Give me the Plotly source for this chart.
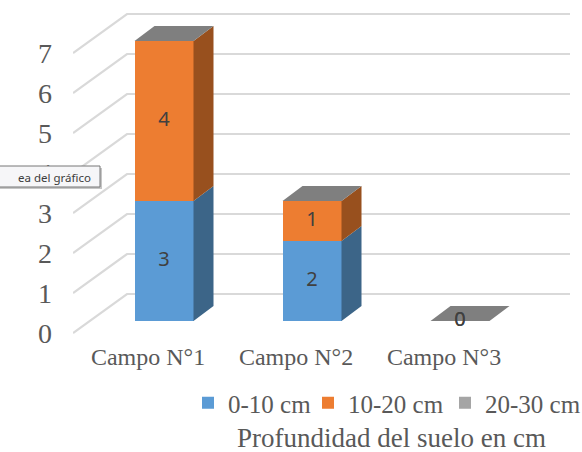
import plotly.graph_objects as go

# ---------------- data ----------------
categories = ["Campo N°1", "Campo N°2", "Campo N°3"]
series_names = ["0-10 cm", "10-20 cm", "20-30 cm"]
s_0_10 = [3, 2, 0]
s_10_20 = [4, 1, 0]
s_20_30 = [0, 0, 0]
y_ticks = [0, 1, 2, 3, 4, 5, 6, 7]
legend_title = "Profundidad del suelo en cm"
tooltip_text = "ea del gráfico"

series_values = [s_0_10, s_10_20, s_20_30]
front_colors = ["#5b9bd5", "#ed7d31", "#a5a5a5"]
side_colors = ["#3c6588", "#98501e", "#7f7f7f"]
top_color = "#7f7f7f"

# ---------------- geometry (pixels) ----------------
W, H = 582, 452
L, R, T, B = 73, 12, 10, 112
PW, PH = W - L - R, H - T - B
PX_CAT = 148.0          # pixels per category step
PX_VAL = 40.0           # pixels per value unit
CAT0_PX = 148.0         # x pixel of first category on the front (label) plane
VAL0_PX = 333.0         # y pixel of value 0 on the front plane
BAR_SHIFT_X = 16 / PX_CAT
BAR_SHIFT_Y = 12 / PX_VAL
BAR_W = 59 / PX_CAT
DEPTH_X = 20 / PX_CAT
DEPTH_Y = 15 / PX_VAL
WALL_X = 54 / PX_CAT
WALL_Y = 39 / PX_VAL

x_rng = [(L - CAT0_PX) / PX_CAT, (W - R - CAT0_PX) / PX_CAT]
y_rng = [(VAL0_PX - (H - B)) / PX_VAL, (VAL0_PX - T) / PX_VAL]
x2_rng = [x_rng[0] - BAR_SHIFT_X, x_rng[1] - BAR_SHIFT_X]
y2_rng = [y_rng[0] - BAR_SHIFT_Y, y_rng[1] - BAR_SHIFT_Y]


def pxx(p):
    return (p - L) / PW


def pxy(p):
    return (H - B - p) / PH


SERIF = "Liberation Serif"
SANS = "Noto Sans"
TXT = "#595959"

fig = go.Figure()

# gridlines: front floor diagonal + back wall
gx, gy = [], []
for k in y_ticks:
    gx += [x_rng[0], x_rng[0] + WALL_X, x_rng[1], None]
    gy += [k, k + WALL_Y, k + WALL_Y, None]
fig.add_trace(go.Scatter(x=gx, y=gy, mode="lines", line=dict(color="#d9d9d9", width=2.2),
                         hoverinfo="skip", showlegend=False, xaxis="x", yaxis="y"))

# front faces (stacked bars), each series with its own legend box
xs = list(range(len(categories)))
legend_ids = ["legend", "legend2", "legend3"]
for name, vals, col, lg in zip(series_names, series_values, front_colors, legend_ids):
    fig.add_trace(go.Bar(x=xs, y=vals, name=name, width=BAR_W, marker=dict(color=col, line=dict(width=0)),
                         xaxis="x2", yaxis="y2", hoverinfo="skip", legend=lg))

# side faces
for si, (vals, col) in enumerate(zip(series_values, side_colors)):
    px_, py_ = [], []
    for i, v in enumerate(vals):
        if v <= 0:
            continue
        base = sum(series_values[j][i] for j in range(si))
        xr = i + BAR_W / 2
        px_ += [xr, xr + DEPTH_X, xr + DEPTH_X, xr, xr, None]
        py_ += [base, base + DEPTH_Y, base + v + DEPTH_Y, base + v, base, None]
    if px_:
        fig.add_trace(go.Scatter(x=px_, y=py_, mode="lines", fill="toself", fillcolor=col,
                                 line=dict(width=0, color=col), hoverinfo="skip",
                                 showlegend=False, xaxis="x2", yaxis="y2"))

# top faces
tx, ty = [], []
for i in xs:
    tot = sum(s[i] for s in series_values)
    xl, xr = i - BAR_W / 2, i + BAR_W / 2
    tx += [xl, xr, xr + DEPTH_X, xl + DEPTH_X, xl, None]
    ty += [tot, tot, tot + DEPTH_Y, tot + DEPTH_Y, tot, None]
fig.add_trace(go.Scatter(x=tx, y=ty, mode="lines", fill="toself", fillcolor=top_color,
                         line=dict(width=0, color=top_color), hoverinfo="skip",
                         showlegend=False, xaxis="x2", yaxis="y2"))

# data labels (first two series)
for si in range(2):
    vals = series_values[si]
    ly = []
    for i, v in enumerate(vals):
        base = sum(series_values[j][i] for j in range(si))
        ly.append(base + v / 2)
    fig.add_trace(go.Scatter(x=xs, y=ly, mode="text", text=[str(v) for v in vals],
                             textfont=dict(family=SANS, size=20, color="#404040"),
                             textposition="middle center", hoverinfo="skip", showlegend=False,
                             cliponaxis=False, xaxis="x2", yaxis="y2"))

leg_common = dict(orientation="h", xanchor="left", yanchor="middle", y=pxy(403),
                  itemwidth=30, font=dict(family=SERIF, size=25, color=TXT),
                  bgcolor="rgba(0,0,0,0)", borderwidth=0)

fig.update_layout(
    width=W, height=H,
    margin=dict(l=L, r=R, t=T, b=B, autoexpand=False),
    paper_bgcolor="white", plot_bgcolor="white",
    barmode="stack",
    showlegend=True,
    xaxis=dict(range=x_rng, tickmode="array", tickvals=xs, ticktext=categories,
               showgrid=False, zeroline=False, showline=False, ticks="", automargin=False,
               ticklabelstandoff=0, tickfont=dict(family=SERIF, size=24, color=TXT)),
    yaxis=dict(range=y_rng, tickmode="array", tickvals=y_ticks, ticktext=[str(t) for t in y_ticks],
               showgrid=False, zeroline=False, showline=False, ticks="", automargin=False,
               ticklabelstandoff=20, tickfont=dict(family=SERIF, size=28, color=TXT)),
    xaxis2=dict(range=x2_rng, overlaying="x", visible=False),
    yaxis2=dict(range=y2_rng, overlaying="y", visible=False),
    legend=dict(x=pxx(188), **leg_common),
    legend2=dict(x=pxx(308), **leg_common),
    legend3=dict(x=pxx(445), **leg_common),
    annotations=[
        dict(text=legend_title, xref="paper", yref="paper", x=pxx(391), y=pxy(438),
             xanchor="center", yanchor="middle", showarrow=False,
             font=dict(family=SERIF, size=27, color=TXT)),
        dict(text=tooltip_text, xref="paper", yref="paper", x=pxx(16), y=pxy(177),
             xanchor="left", yanchor="middle", showarrow=False,
             font=dict(family=SANS, size=11.5, color="#3c3c3c")),
    ],
    shapes=[
        dict(type="rect", xref="paper", yref="paper", x0=pxx(-5), x1=pxx(102), y0=pxy(189), y1=pxy(168),
             fillcolor="#a0a0a0", line=dict(width=0), layer="above", opacity=0.6),
        dict(type="rect", xref="paper", yref="paper", x0=pxx(-5), x1=pxx(100), y0=pxy(187), y1=pxy(166),
             fillcolor="#f6f6f8", line=dict(width=1, color="#767676"), layer="above"),
    ],
)

fig.write_html("out.html", config={"displayModeBar": False},
               post_script="document.body.style.margin='0';")
